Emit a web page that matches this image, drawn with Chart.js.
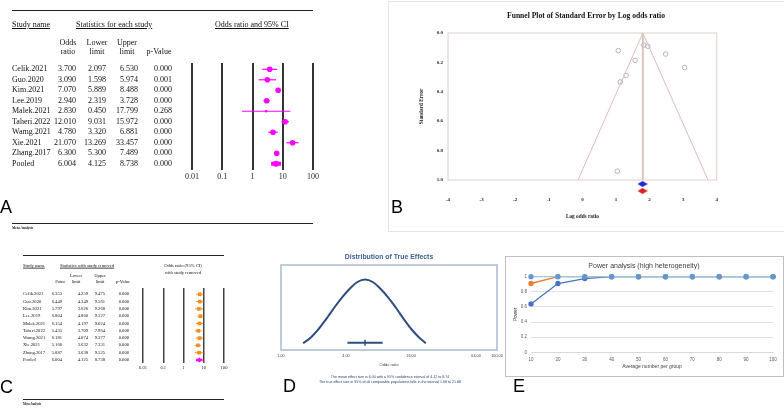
<!DOCTYPE html>
<html>
<head>
<meta charset="utf-8">
<script src="https://cdn.jsdelivr.net/npm/chart.js@4.4.1/dist/chart.umd.min.js"></script>
<style>
  html, body { margin: 0; padding: 0; background: #fff; }
  #page { position: relative; width: 784px; height: 408px; overflow: hidden; background: #fff; }
  .t { position: absolute; white-space: nowrap; line-height: 1; will-change: transform; }
  .serif { font-family: "Liberation Serif", "DejaVu Serif", serif; color: #111; }
  .sans { font-family: "Liberation Sans", Arial, sans-serif; }
  .u { text-decoration: underline; }
  .rule { position: absolute; background: #222; }
  canvas { position: absolute; }
</style>
</head>
<body>
<div id="page"></div>
<script>
// ---- A: studies and their odds ratios ----
const studies = ["Celik.2021", "Guo.2020", "Kim.2021", "Lee.2019", "Malek.2021", "Taheri.2022", "Wamg.2021", "Xie.2021", "Zhang.2017", "Pooled"];
const oddsRatio = [3.700, 3.090, 7.070, 2.940, 2.830, 12.010, 4.780, 21.070, 6.300, 6.004];
const lowerLimit = [2.097, 1.598, 5.889, 2.319, 0.450, 9.031, 3.320, 13.269, 5.300, 4.125];
const upperLimit = [6.530, 5.974, 8.488, 3.728, 17.799, 15.972, 6.881, 33.457, 7.489, 8.738];
const pValue = [0.000, 0.001, 0.000, 0.000, 0.268, 0.000, 0.000, 0.000, 0.000, 0.000];

// ---- C: one study removed ----
const removedPoint = [6.353, 6.449, 5.797, 6.804, 6.154, 5.435, 6.181, 5.160, 5.887, 6.004];
const removedLower = [4.259, 4.349, 3.626, 4.860, 4.197, 3.709, 4.074, 3.632, 3.638, 4.125];
const removedUpper = [9.475, 9.561, 9.268, 9.527, 9.024, 7.964, 9.377, 7.331, 9.525, 8.738];
const removedP = [0.000, 0.000, 0.000, 0.000, 0.000, 0.000, 0.000, 0.000, 0.000, 0.000];

const forestTicks = [0.01, 0.1, 1, 10, 100];
const forestTickLabels = ["0.01", "0.1", "1", "10", "100"];

// ---- B: funnel plot ----
const logOddsRatio = [1.30, 1.13, 1.95, 1.07, 1.04, 2.48, 1.57, 3.04, 1.83];
const stdError = [0.289, 0.333, 0.090, 0.120, 0.940, 0.143, 0.186, 0.235, 0.083];
const funnelX = [-0.13, 1.80, 3.74];
const funnelY = [1.0, 0.0, 1.0];
const pooledLogOR = [1.79, 1.79]; // observed (blue), adjusted (red)
const pooledSE = [1.027, 1.074];
const funnelXLabels = ["-4", "-3", "-2", "-1", "0", "1", "2", "3", "4"];
const funnelYLabels = ["0.0", "0.2", "0.4", "0.6", "0.8", "1.0"];

// ---- D: distribution of true effects ----
const trueOR = [1.60, 1.90, 2.24, 2.64, 3.12, 3.68, 4.33, 5.10, 6.00, 7.07, 8.33, 9.80, 11.55, 13.6, 16.0, 18.9, 21.9];
const trueDensity = [0.08, 0.15, 0.25, 0.37, 0.50, 0.62, 0.72, 0.80, 0.83, 0.80, 0.72, 0.62, 0.50, 0.37, 0.25, 0.15, 0.08];
const meanCI = [4.12, 6.00, 8.74];
const trueTicks = [1, 4, 16, 64, 100];
const trueTickLabels = ["1.00", "4.00", "16.00", "64.00", "100.00"];

// ---- E: power analysis ----
const groupSize = ["10", "20", "30", "40", "50", "60", "70", "80", "90", "100"];
const powerLight = [1, 1, 1, 1, 1, 1, 1, 1, 1, 1];
const powerOrange = [0.91, 1, 1, 1, 1, 1, 1, 1, 1, 1];
const powerBlue = [0.64, 0.91, 0.975, 1, 1, 1, 1, 1, 1, 1];
const powerTickLabels = ["0", "0.2", "0.4", "0.6", "0.8", "1"];

const SERIF = '"Liberation Serif", "DejaVu Serif", serif';
const SANS = '"Liberation Sans", Arial, sans-serif';
Chart.defaults.font.family = SANS;

const page = document.getElementById("page");

// texto posicionado: anchor l / c / r, y es el centro vertical
function txt(s, x, y, cls, size, anchor = "l", extra = {}) {
  const d = document.createElement("div");
  d.className = "t " + cls;
  d.textContent = s;
  const tx = anchor === "c" ? "-50%" : anchor === "r" ? "-100%" : "0";
  Object.assign(d.style, { left: x + "px", top: y + "px", fontSize: size + "px", transform: `translate(${tx},-50%)` }, extra);
  page.appendChild(d);
  return d;
}

function rule(x, y, w, h) {
  const d = document.createElement("div");
  d.className = "rule";
  Object.assign(d.style, { left: x + "px", top: y + "px", width: w + "px", height: h + "px" });
  page.appendChild(d);
}

function addCanvas(left, top, width, height) {
  const cv = document.createElement("canvas");
  cv.width = width;
  cv.height = height;
  Object.assign(cv.style, { left: left + "px", top: top + "px", width: width + "px", height: height + "px" });
  page.appendChild(cv);
  return cv;
}

// marco alrededor del área de datos
Chart.register({
  id: "frame",
  afterDatasetsDraw(chart, args, opts) {
    if (!opts.color) return;
    const { left, top, right, bottom } = chart.chartArea;
    const ctx = chart.ctx;
    ctx.save();
    ctx.strokeStyle = opts.color;
    ctx.lineWidth = opts.width || 1;
    ctx.strokeRect(left, top, right - left, bottom - top);
    ctx.restore();
  },
});

// sin autoPadding: el área de datos queda exactamente donde dicen los paddings
const base = (extra) => {
  const o = Object.assign({ responsive: false, animation: false, devicePixelRatio: 1, events: [] }, extra);
  o.layout = Object.assign({ autoPadding: false }, o.layout);
  return o;
};

function forest(cv, point, lo, hi, st) {
  const last = point.length - 1;
  const ciSets = point.map((p, i) => ({
    data: [{ x: lo[i], y: i }, { x: hi[i], y: i }],
    showLine: true,
    borderColor: i === last ? st.pooledColor : st.color,
    borderWidth: i === last ? st.pooledCi : st.ci,
    pointRadius: 0,
    clip: false,
  }));
  const marks = {
    data: point.map((p, i) => ({ x: p, y: i })),
    pointStyle: point.map((p, i) => (i === last ? st.pooledStyle : st.style)),
    pointRadius: point.map((p, i) => (i === last ? st.pooledR : hi[i] / lo[i] > 10 ? st.smallR : st.r)),
    pointBackgroundColor: point.map((p, i) => (i === last ? st.pooledColor : st.color)),
    pointBorderWidth: 0,
    clip: false,
  };
  new Chart(cv, {
    type: "scatter",
    data: { datasets: [...ciSets, marks] },
    options: base({
      layout: { padding: { left: st.pad, right: st.pad, top: 0, bottom: 0 } },
      plugins: { legend: { display: false }, tooltip: { enabled: false } },
      scales: {
        x: {
          type: "logarithmic",
          min: 0.01,
          max: 100,
          afterBuildTicks: (s) => { s.ticks = forestTicks.map((v) => ({ value: v })); },
          afterFit: (s) => { s.height = st.axisH; },
          ticks: {
            autoSkip: false, maxRotation: 0, padding: st.tickPad, color: "#222",
            font: { family: SERIF, size: st.font },
            callback: (v, i) => forestTickLabels[i],
          },
          grid: { color: st.grid, lineWidth: st.gridW, drawTicks: false },
          border: { display: false },
        },
        y: { display: false, min: st.yMin, max: st.yMax, reverse: true },
      },
    }),
  });
}

// ================= Panel A =================
rule(12, 9.5, 301, 1.5);
txt("Study name", 12, 25, "serif u", 8);
txt("Statistics for each study", 76, 25, "serif u", 8);
txt("Odds ratio and 95% CI", 215, 25, "serif u", 8);
[["Odds", "ratio", 68], ["Lower", "limit", 97], ["Upper", "limit", 127]].forEach(([a, b, x]) => {
  txt(a, x, 43, "serif", 8, "c");
  txt(b, x, 52, "serif", 8, "c");
});
txt("p-Value", 158.5, 52, "serif", 8, "c");
studies.forEach((s, i) => {
  const y = 69 + i * 10.5;
  txt(s, 12, y, "serif", 8);
  txt(oddsRatio[i].toFixed(3), 76, y, "serif", 8, "r");
  txt(lowerLimit[i].toFixed(3), 106, y, "serif", 8, "r");
  txt(upperLimit[i].toFixed(3), 138.3, y, "serif", 8, "r");
  txt(pValue[i].toFixed(3), 171.7, y, "serif", 8, "r");
});
forest(addCanvas(180, 63, 145, 121), oddsRatio, lowerLimit, upperLimit, {
  pad: 12, axisH: 14, tickPad: 2, font: 8, grid: "#333", gridW: 2,
  yMin: -0.6, yMax: 9.6,
  color: "#ff00ff", ci: 1.2, style: "circle", r: 2.8, smallR: 1.2,
  pooledColor: "#ff00ff", pooledCi: 4, pooledStyle: "circle", pooledR: 3,
});
txt("A", 0, 206.5, "sans", 18);
rule(12, 222.5, 301, 1.5);
txt("Meta Analysis", 12, 229, "serif", 3.5, "l", { fontWeight: "bold" });

// ================= Panel C =================
rule(23, 254.5, 201, 1);
txt("Study name", 23.3, 266, "serif u", 4.6);
txt("Statistics with study removed", 60, 266, "serif u", 4.6);
txt("Odds ratio (95% CI)", 183.3, 266, "serif", 4.6, "c");
txt("with study removed", 183.3, 272.7, "serif", 4.6, "c");
[["Lower", "limit", 76], ["Upper", "limit", 100]].forEach(([a, b, x]) => {
  txt(a, x, 276, "serif", 4.6, "c");
  txt(b, x, 282, "serif", 4.6, "c");
});
txt("Point", 60, 282, "serif", 4.6, "c");
txt("p-Value", 123.3, 282, "serif", 4.6, "c");
studies.forEach((s, i) => {
  const y = 294.3 + i * 7.3;
  txt(s, 23.3, y, "serif", 4.6);
  txt(removedPoint[i].toFixed(3), 62.3, y, "serif", 4.6, "r");
  txt(removedLower[i].toFixed(3), 87.7, y, "serif", 4.6, "r");
  txt(removedUpper[i].toFixed(3), 105, y, "serif", 4.6, "r");
  txt(removedP[i].toFixed(3), 129, y, "serif", 4.6, "r");
});
forest(addCanvas(133, 288, 101, 85), removedPoint, removedLower, removedUpper, {
  pad: 10, axisH: 10, tickPad: 2.3, font: 4.6, grid: "#444", gridW: 1.5,
  yMin: -0.86, yMax: 9.41,
  color: "#ff8c1a", ci: 1, style: "rect", r: 2.6, smallR: 2.6,
  pooledColor: "#ff00ff", pooledCi: 2.5, pooledStyle: "rectRot", pooledR: 2.6,
});
txt("C", 0, 387, "sans", 18);
rule(23, 398.5, 201, 1.2);
txt("Meta Analysis", 23, 404, "serif", 3, "l", { fontWeight: "bold" });

// ================= Panel B =================
const boxB = document.createElement("div");
Object.assign(boxB.style, { position: "absolute", left: "388px", top: "1px", width: "400px", height: "229px", border: "1px solid #e4e4e4" });
page.appendChild(boxB);
txt("Funnel Plot of Standard Error by Log odds ratio", 586, 16, "serif", 7.6, "c", { fontWeight: "bold", color: "#111" });

function diamond(color) {
  const c = document.createElement("canvas");
  c.width = 10;
  c.height = 6;
  const g = c.getContext("2d");
  g.fillStyle = color;
  g.beginPath();
  g.moveTo(0, 3); g.lineTo(5, 0); g.lineTo(10, 3); g.lineTo(5, 6);
  g.closePath();
  g.fill();
  return c;
}

const funnelLine = "#dbbdb8";
new Chart(addCanvas(395, 25, 340, 200), {
  type: "scatter",
  data: {
    datasets: [
      {
        // radio grande para que el punto no se descarte fuera del área (la imagen no se escala)
        data: pooledLogOR.map((x, i) => ({ x, y: pooledSE[i] })),
        pointStyle: [diamond("#1f2bd0"), diamond("#e01f1f")],
        pointRadius: 16,
        clip: false,
      },
      { data: funnelX.map((x, i) => ({ x, y: funnelY[i] })), showLine: true, borderColor: funnelLine, borderWidth: 1, pointRadius: 0 },
      { data: [{ x: funnelX[1], y: 0 }, { x: funnelX[1], y: 1 }], showLine: true, borderColor: funnelLine, borderWidth: 1, pointRadius: 0 },
      {
        data: logOddsRatio.map((x, i) => ({ x, y: stdError[i] })),
        pointRadius: 2.3, pointBackgroundColor: "rgba(255,255,255,0)", pointBorderColor: "#a3a3a3", pointBorderWidth: 0.8,
      },
    ],
  },
  options: base({
    layout: { padding: { left: 0, right: 11, top: 6, bottom: 0 } },
    plugins: { legend: { display: false }, tooltip: { enabled: false }, frame: { color: "#e2cfcc", width: 1 } },
    scales: {
      x: {
        type: "linear", min: -4, max: 4,
        afterFit: (s) => { s.height = 45; },
        ticks: {
          stepSize: 1, autoSkip: false, maxRotation: 0, padding: 17, color: "#222",
          font: { family: SERIF, size: 5, weight: "bold" },
          callback: (v) => funnelXLabels[Math.round(v) + 4],
        },
        grid: { display: false, drawTicks: false },
        border: { display: false },
        title: { display: true, text: "Log odds ratio", color: "#222", font: { family: SERIF, size: 5.3, weight: "bold" }, padding: { top: 0, bottom: 5 } },
      },
      y: {
        min: 0, max: 1, reverse: true,
        afterFit: (s) => { s.width = 53; },
        ticks: {
          stepSize: 0.2, autoSkip: false, padding: 5, color: "#222",
          font: { family: SERIF, size: 5, weight: "bold" },
          callback: (v) => funnelYLabels[Math.round(v * 5)],
        },
        grid: { display: false, drawTicks: false },
        border: { display: false },
        title: { display: true, text: "Standard Error", color: "#222", font: { family: SERIF, size: 5.3, weight: "bold" }, padding: { top: 23.7, bottom: 0 } },
      },
    },
  }),
});
txt("B", 391, 206.5, "sans", 18);

// ================= Panel D =================
const blueD = "#2c4f80";
txt("Distribution of True Effects", 388.7, 257, "sans", 6.9, "c", { fontWeight: "bold", color: "#3f6294" });
const ciLevel = 0.086;
new Chart(addCanvas(271, 260, 239, 110), {
  type: "scatter",
  data: {
    datasets: [
      { data: trueOR.map((x, i) => ({ x, y: trueDensity[i] })), showLine: true, tension: 0.4, borderColor: blueD, borderWidth: 2, pointRadius: 0 },
      { data: [{ x: meanCI[0], y: ciLevel }, { x: meanCI[2], y: ciLevel }], showLine: true, borderColor: blueD, borderWidth: 2, pointRadius: 0 },
      { data: [{ x: meanCI[1], y: ciLevel - 0.035 }, { x: meanCI[1], y: ciLevel + 0.035 }], showLine: true, borderColor: blueD, borderWidth: 1.5, pointRadius: 0 },
    ],
  },
  options: base({
    layout: { padding: { left: 10, right: 13, top: 5, bottom: 0 } },
    plugins: { legend: { display: false }, tooltip: { enabled: false }, frame: { color: "#a9bbd3", width: 1.5 } },
    scales: {
      x: {
        type: "logarithmic", min: 1, max: 100,
        afterBuildTicks: (s) => { s.ticks = trueTicks.map((v) => ({ value: v })); },
        afterFit: (s) => { s.height = 20; },
        ticks: { autoSkip: false, maxRotation: 0, padding: 4, color: "#444", font: { size: 3.8 }, callback: (v, i) => trueTickLabels[i] },
        grid: { display: false, drawTicks: false },
        border: { display: false },
        title: { display: true, text: "Odds ratio", color: "#444", font: { size: 4.1 }, padding: { top: 0, bottom: 2.9 } },
      },
      y: { display: false, min: 0, max: 1 },
    },
  }),
});
txt("The mean effect size is 6.00 with a 95% confidence interval of 4.12 to 8.74", 390, 377.7, "sans", 3.6, "c", { color: "#1f3d73" });
txt("The true effect size in 95% of all comparable populations falls in the interval 1.68 to 21.88", 390, 383.3, "sans", 3.6, "c", { color: "#1f3d73" });
txt("D", 283, 385.5, "sans", 18);

// ================= Panel E =================
const boxE = document.createElement("div");
Object.assign(boxE.style, { position: "absolute", left: "505px", top: "256px", width: "277px", height: "119px", border: "1px solid #bfbfbf" });
page.appendChild(boxE);
txt("Power analysis (high heterogeneity)", 643.7, 265, "sans", 7, "c", { color: "#404040" });
const lineSet = (data, line, mark) => ({
  data, borderColor: line, borderWidth: 1.3, pointRadius: 2, pointBackgroundColor: mark, pointBorderColor: mark, clip: false,
});
new Chart(addCanvas(507, 270, 276, 103), {
  type: "line",
  data: {
    labels: groupSize,
    datasets: [
      lineSet(powerLight, "#9dc3e6", "#5b9bd5"),
      lineSet(powerOrange, "#ed7d31", "#ed7d31"),
      lineSet(powerBlue, "#4472c4", "#4472c4"),
    ],
  },
  options: base({
    layout: { padding: { left: 0, right: 10, top: 5.7, bottom: 0 } },
    plugins: { legend: { display: false }, tooltip: { enabled: false } },
    scales: {
      x: {
        afterFit: (s) => { s.height = 20.7; },
        ticks: { autoSkip: false, maxRotation: 0, padding: 4.5, color: "#595959", font: { size: 4.5 } },
        grid: { display: false, drawTicks: false },
        border: { color: "#d9d9d9" },
        title: { display: true, text: "Average number per group", color: "#404040", font: { size: 5 }, padding: { top: 0, bottom: 3.6 } },
      },
      y: {
        min: 0, max: 1,
        afterFit: (s) => { s.width = 24; },
        ticks: { stepSize: 0.2, autoSkip: false, padding: 4, color: "#595959", font: { size: 4.5 }, callback: (v) => powerTickLabels[Math.round(v * 5)] },
        grid: { color: "#d9d9d9", lineWidth: 0.8, drawTicks: false },
        border: { display: false },
        title: { display: true, text: "Power", color: "#404040", font: { size: 4.8 }, padding: { top: 5.3, bottom: 0 } },
      },
    },
  }),
});
txt("E", 512.7, 385.5, "sans", 18);
</script>
</body>
</html>
